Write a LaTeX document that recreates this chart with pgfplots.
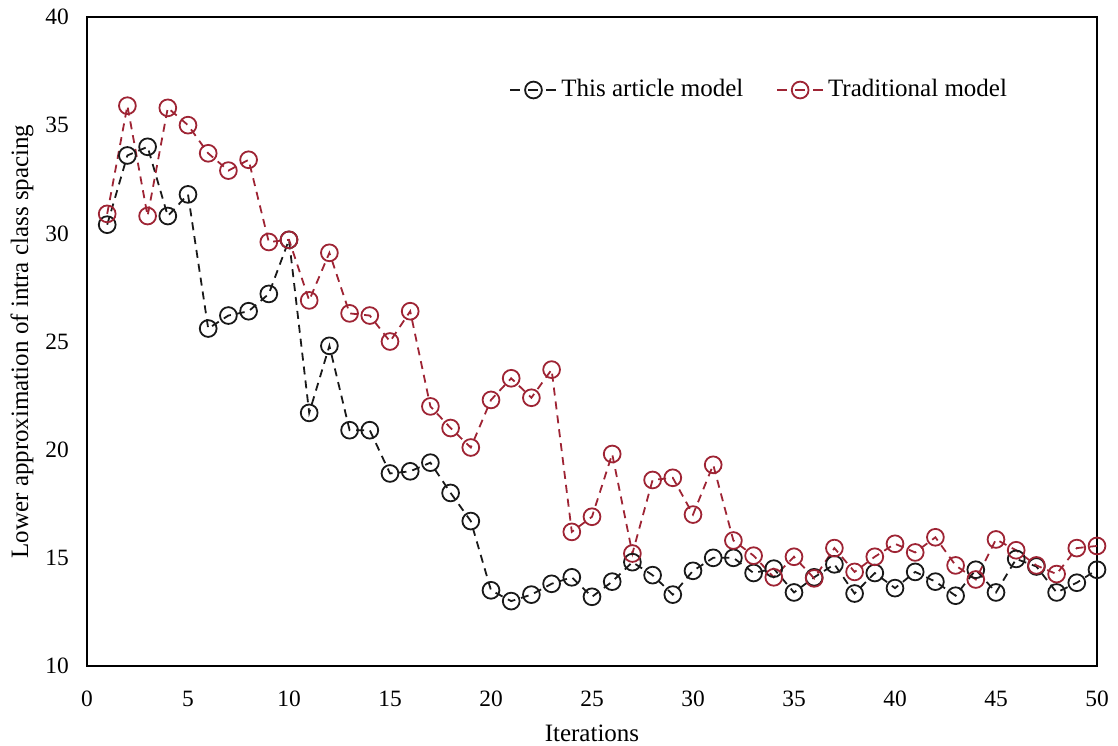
\documentclass[border=0pt]{standalone}
\usepackage{pgfplots}
\pgfplotsset{compat=1.18}
\usepackage{fontspec}
\setmainfont{Liberation Serif}
\definecolor{tradred}{RGB}{158,36,52}
\definecolor{artblack}{RGB}{25,25,25}
\begin{document}
\fontsize{12.5}{15}\selectfont
\begin{tikzpicture}
\useasboundingbox (-43.5pt,-39.5pt) rectangle (515.5pt,333pt);
\begin{axis}[
  at={(0,0)}, anchor=south west,
  scale only axis, width=505pt, height=324.5pt,
  xmin=0, xmax=50, ymin=10, ymax=40,
  xtick={0,5,...,50}, ytick={10,15,...,40},
  major tick length=0pt,
  axis line style={line width=1.1pt, black},
  /pgf/number format/assume math mode=true,
  tick label style={font=\fontsize{11.7}{14}\selectfont},
  x tick label style={yshift=-8pt},
  y tick label style={xshift=-4.7pt},
  xlabel={Iterations},
  ylabel={Lower approximation of intra class spacing},
  label style={font=\fontsize{12.5}{15}\selectfont},
  xlabel style={at={([yshift=-33.5pt]axis description cs:0.5,0)}, anchor=center},
  ylabel style={at={([xshift=-32.5pt]axis description cs:0,0.5)}, anchor=center},
  legend style={draw=none, fill=none, at={(0.418,0.8875)}, anchor=west,
    legend columns=2, font=\fontsize{12.5}{15}\selectfont,
    inner xsep=0pt,
    /tikz/every even column/.append style={column sep=14.5pt}},
  legend image code/.code={%
    \draw[solid] (0pt,0pt)--(5pt,0pt);
    \draw[solid] (9pt,0pt)--(14pt,0pt);
    \draw[solid] (18pt,0pt)--(23pt,0pt);
    \draw[solid] plot coordinates {(11.5pt,0pt)};},
]
\addplot[artblack, line width=0.9pt, dash pattern=on 4pt off 3pt,
  mark=o, mark size=4.2pt, mark options={solid, line width=0.9pt}] coordinates {
(1,30.4) (2,33.6) (3,34.0) (4,30.8) (5,31.8) (6,25.6) (7,26.2) (8,26.4) (9,27.2) (10,29.7)
(11,21.7) (12,24.8) (13,20.9) (14,20.9) (15,18.9) (16,19.0) (17,19.4) (18,18.0) (19,16.7) (20,13.5)
(21,13.0) (22,13.3) (23,13.8) (24,14.1) (25,13.2) (26,13.9) (27,14.8) (28,14.2) (29,13.3) (30,14.4)
(31,15.0) (32,15.0) (33,14.3) (34,14.5) (35,13.4) (36,14.1) (37,14.7) (38,13.35) (39,14.3) (40,13.6)
(41,14.35) (42,13.9) (43,13.25) (44,14.45) (45,13.4) (46,14.95) (47,14.6) (48,13.4) (49,13.85) (50,14.45)
};
\addlegendentry{This article model}
\addplot[tradred, line width=0.9pt, dash pattern=on 4pt off 3pt,
  mark=o, mark size=4.2pt, mark options={solid, line width=0.9pt}] coordinates {
(1,30.9) (2,35.9) (3,30.8) (4,35.8) (5,35.0) (6,33.7) (7,32.9) (8,33.4) (9,29.6) (10,29.7)
(11,26.9) (12,29.1) (13,26.3) (14,26.2) (15,25.0) (16,26.4) (17,22.0) (18,21.0) (19,20.1) (20,22.3)
(21,23.3) (22,22.4) (23,23.7) (24,16.2) (25,16.9) (26,19.8) (27,15.2) (28,18.6) (29,18.7) (30,17.0)
(31,19.3) (32,15.8) (33,15.1) (34,14.1) (35,15.05) (36,14.05) (37,15.45) (38,14.35) (39,15.05) (40,15.65)
(41,15.25) (42,15.95) (43,14.65) (44,14.0) (45,15.85) (46,15.35) (47,14.65) (48,14.25) (49,15.45) (50,15.55)
};
\addlegendentry{Traditional model}
\end{axis}
\end{tikzpicture}
\end{document}
